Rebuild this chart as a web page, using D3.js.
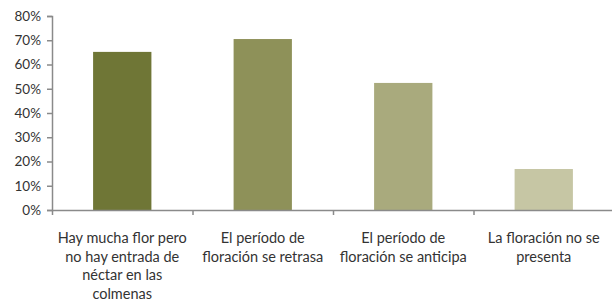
<!DOCTYPE html>
<html>
<head>
<meta charset="utf-8">
<script src="https://d3js.org/d3.v7.min.js"></script>
<style>
  body { margin: 0; background: #fff; }
  text { font-family: Lato, "Liberation Sans", sans-serif; fill: #333; }
</style>
</head>
<body>
<div id="chart"></div>
<script>
// data
var categories = [
  ["Hay mucha flor pero", "no hay entrada de", "néctar en las", "colmenas"],
  ["El período de", "floración se retrasa"],
  ["El período de", "floración se anticipa"],
  ["La floración no se", "presenta"]
];
var values = [0.652, 0.705, 0.524, 0.169];
var colors = ["#6f7636", "#8e9159", "#a9aa7d", "#c6c6a4"];
var yTicks = [0, 0.1, 0.2, 0.3, 0.4, 0.5, 0.6, 0.7, 0.8];

var W = 612, H = 301;
var margin = {top: 16, left: 52, bottom: 91};
var plotW = 562; // runs past the right edge like the original

var svg = d3.select("#chart").append("svg")
  .attr("width", W).attr("height", H);

var x = d3.scaleBand()
  .domain(d3.range(categories.length))
  .range([margin.left, margin.left + plotW])
  .paddingInner(0.585).paddingOuter(0.2925);

var y = d3.scaleLinear()
  .domain([0, 0.8])
  .range([H - margin.bottom, margin.top]);

// bars
svg.append("g")
  .selectAll("rect")
  .data(values)
  .enter()
  .append("rect")
  .attr("x", function(d, i) { return x(i); })
  .attr("width", x.bandwidth())
  .attr("y", function(d) { return y(d); })
  .attr("height", function(d) { return y(0) - y(d); })
  .attr("fill", function(d, i) { return colors[i]; });

// y axis
var yAxis = svg.append("g")
  .attr("transform", "translate(" + margin.left + ",0)")
  .call(d3.axisLeft(y).tickValues(yTicks).tickFormat(d3.format(".0%")).tickSize(5).tickPadding(6));
yAxis.selectAll("path, line").attr("stroke", "#8a8a8a").attr("stroke-width", 1.5);
yAxis.selectAll("text").style("font-size", "13.5px").attr("fill", "#333");

// x axis with ticks at the band boundaries
var xb = d3.scaleLinear().domain([0, categories.length]).range([margin.left, margin.left + plotW]);
var xAxis = svg.append("g")
  .attr("transform", "translate(0," + y(0) + ")")
  .call(d3.axisBottom(xb).ticks(4).tickFormat("").tickSize(5).tickSizeOuter(0));
xAxis.selectAll("path, line").attr("stroke", "#8a8a8a").attr("stroke-width", 1.5);

// category labels
var lab = svg.append("g")
  .selectAll("text")
  .data(categories)
  .enter()
  .append("text")
  .attr("text-anchor", "middle")
  .attr("x", function(d, i) { return x(i) + x.bandwidth() / 2; })
  .attr("y", 243)
  .style("font-size", "14.5px");

lab.selectAll("tspan")
  .data(function(d) { return d; })
  .enter()
  .append("tspan")
  .attr("x", function() { return d3.select(this.parentNode).attr("x"); })
  .attr("dy", function(d, i) { return i === 0 ? 0 : 18.6; })
  .text(function(d) { return d; });
</script>
</body>
</html>
